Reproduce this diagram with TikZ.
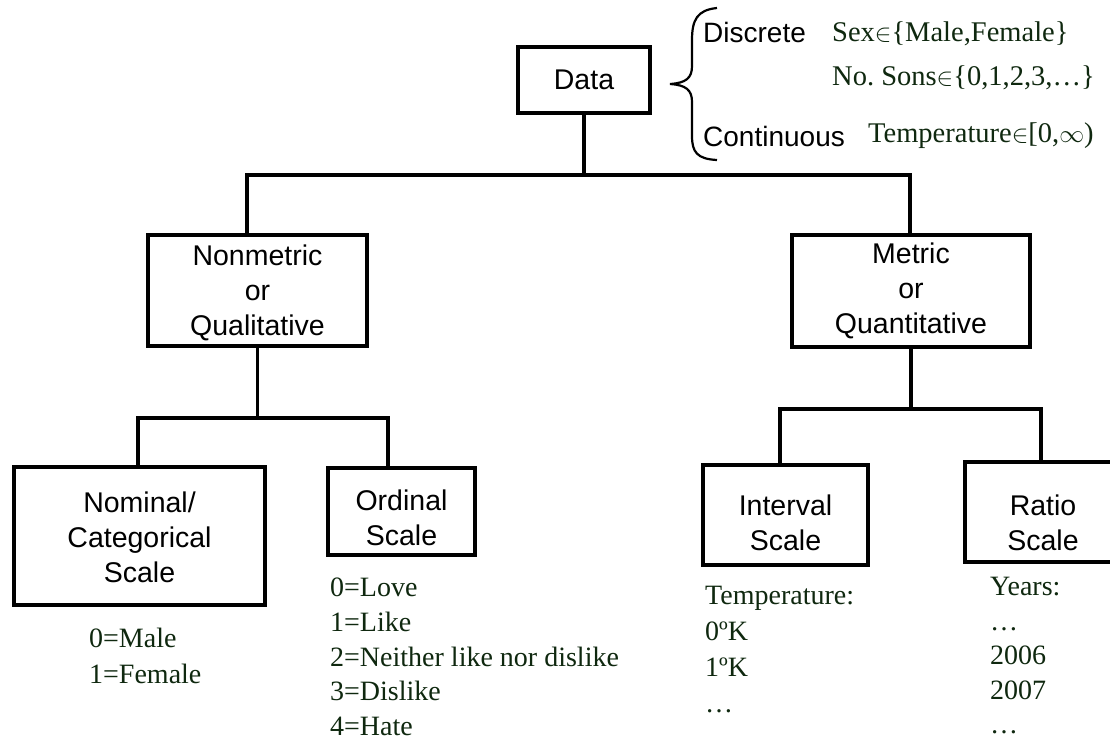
\documentclass[tikz,border=0pt]{standalone}
\usepackage{fontspec}
\setmainfont{Liberation Serif}
\newfontfamily\boxfont{Liberation Sans}
\definecolor{valgreen}{RGB}{15,40,15}
\newcommand{\lift}[1]{\rule{0pt}{#1pt}}
\begin{document}
\frenchspacing
\begin{tikzpicture}[x=1pt,y=-1pt,
  box/.style={draw,line width=3.8pt,inner sep=0pt,align=center,
    font=\boxfont\fontsize{28.5}{35}\selectfont},
  conn/.style={line width=3.8pt},
  vals/.style={inner sep=0pt,anchor=north west,align=left,text=valgreen,
    font=\fontsize{28}{34.6}\selectfont},
  widevals/.style={vals,font=\fontsize{28}{36}\selectfont},
  kind/.style={inner sep=0pt,anchor=west,font=\boxfont\fontsize{28}{34}\selectfont},
  example/.style={inner sep=0pt,anchor=west,text=valgreen,
    font=\fontsize{28.5}{35}\selectfont}]
\clip (0,0) rectangle (1110,740);
\fill[white] (0,0) rectangle (1110,740);

% boxes of the classification tree
\node[box,minimum width=132pt,minimum height=66pt] (data) at (584,80) {Data};
\node[box,minimum width=219pt,minimum height=111pt] (nonmetric) at (257.5,290.5) {\lift{25}Nonmetric\\or\\Qualitative};
\node[box,minimum width=238pt,minimum height=112pt] (metric) at (911,291) {Metric\\or\\Quantitative};
\node[box,minimum width=251pt,minimum height=138pt] (nominal) at (139.5,536) {\lift{23}Nominal/\\Categorical\\Scale};
\node[box,minimum width=147pt,minimum height=87pt] (ordinal) at (401.5,511.5) {\lift{33}Ordinal\\Scale};
\node[box,minimum width=165pt,minimum height=100pt] (interval) at (785.5,515) {\lift{36}Interval\hspace{12pt}\\Scale\hspace{12pt}};
\node[box,minimum width=156pt,minimum height=100pt] (ratio) at (1043,512) {\lift{43}Ratio\\Scale};

% junction points of the connectors
\coordinate (t1) at (247,175);
\coordinate (t2) at (910,175);
\coordinate (l1) at (138,418);
\coordinate (l2) at (388,418);
\coordinate (r1) at (780,409);
\coordinate (r2) at (1041,409);

\draw[conn] (data.south) -- (data.south |- t1);
\draw[conn] (t1 |- nonmetric.north) -- (t1) -- (t2) -- (t2 |- metric.north);
\draw[conn] (nonmetric.south) -- (nonmetric.south |- l1);
\draw[conn] (l1 |- nominal.north) -- (l1) -- (l2) -- (l2 |- ordinal.north);
\draw[conn] (metric.south) -- (metric.south |- r1);
\draw[conn] (r1 |- interval.north) -- (r1) -- (r2) -- (r2 |- ratio.north);

% brace with the kinds of data
\draw[line width=2.2pt] (717,8) .. controls (697,10) and (692,20) .. (692,40)
  -- (692,66) .. controls (692,78) and (686,83) .. (670,84)
  .. controls (686,85) and (692,90) .. (692,102)
  -- (692,136) .. controls (692,152) and (697,159) .. (717,160);
\node[kind] (discrete) at (703,32) {Discrete};
\node[kind] (continuous) at (703,136) {Continuous};
\node[example] (sex) at (832,34) {Sex$\in$\{Male,Female\}};
\node[example] (sons) at (832,78) {No. Sons$\in$\{0,1,2,3,\ldots\}};
\node[example] (temp) at (868,136) {Temperature$\in$[0,$\infty$)};

% example values under each scale
\node[widevals] (nomvals) at (89,628) {0=Male\\1=Female};
\node[vals] (ordvals) at (330,578) {0=Love\\1=Like\\2=Neither like nor dislike\\3=Dislike\\4=Hate};
\node[widevals] (intvals) at (705,586) {Temperature:\\0ºK\\1ºK\\…};
\node[vals] (ratvals) at (990,577) {Years:\\…\\2006\\2007\\…};
\end{tikzpicture}
\end{document}
